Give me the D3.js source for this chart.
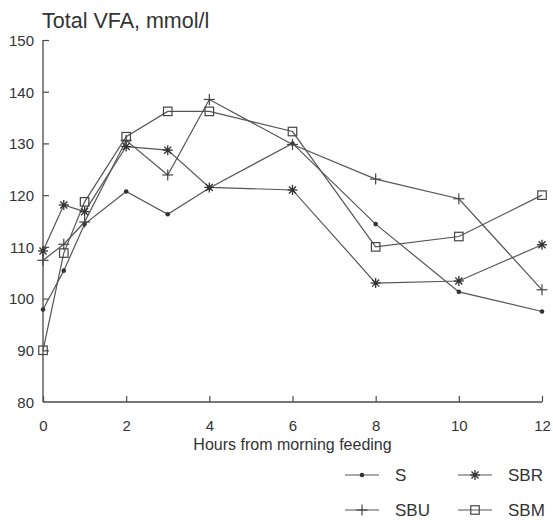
<!DOCTYPE html>
<html>
<head>
<meta charset="utf-8">
<script src="https://cdn.jsdelivr.net/npm/d3@7"></script>
<style>
  html, body { margin: 0; padding: 0; background: #fff; }
  svg { display: block; font-family: "Liberation Sans", Arial, Helvetica, sans-serif; }
</style>
</head>
<body>
<svg id="chart" width="553" height="520"></svg>
<script>
// ---- data ----
const hours = [0, 0.5, 1, 2, 3, 4, 6, 8, 10, 12];
const seriesNames = ["S", "SBR", "SBU", "SBM"];
const S   = [97.9, 105.4, 114.4, 120.7, 116.3, 121.4, 130.0, 114.4, 101.3, 97.5];
const SBR = [109.2, 118.1, 116.8, 129.4, 128.7, 121.5, 121.0, 103.0, 103.4, 110.4];
const SBU = [107.4, 110.5, 114.8, 130.6, 123.9, 138.5, 129.8, 123.1, 119.3, 101.7];
const SBM = [90.0, 108.8, 118.7, 131.3, 136.2, 136.2, 132.3, 110.0, 112.0, 120.0];
const xTicks = [0, 2, 4, 6, 8, 10, 12];
const yTicks = [80, 90, 100, 110, 120, 130, 140, 150];
const title = "Total VFA, mmol/l";
const xTitle = "Hours from morning feeding";

const seriesData = { S: S, SBR: SBR, SBU: SBU, SBM: SBM };

// ---- layout ----
const svg = d3.select("#chart");
const pLeft = 43, pRight = 542, pTop = 40, pBottom = 402;
const ink = "#4a4a4a", textInk = "#333";

const x = d3.scaleLinear().domain([0, 12]).range([pLeft, pRight]);
const y = d3.scaleLinear().domain([80, 150]).range([pBottom, pTop]);

// title
svg.append("text").attr("x", 42).attr("y", 28)
  .attr("font-size", 21.5).attr("fill", textInk).text(title);

// axes
const xAxis = d3.axisBottom(x).tickValues(xTicks).tickSize(-6).tickPadding(0).tickFormat(d3.format("d"));
const gx = svg.append("g").attr("transform", `translate(0,${pBottom})`).call(xAxis);
gx.select(".domain").attr("stroke", ink).attr("stroke-width", 1.3).attr("d", `M${pLeft},0H${pRight}`);
gx.selectAll(".tick line").attr("stroke", ink).attr("stroke-width", 1.2);
gx.selectAll(".tick text").attr("fill", textInk).attr("font-size", 15)
  .attr("dy", null).attr("y", 29).attr("font-family", "Liberation Sans, Arial, sans-serif");

const yAxis = d3.axisLeft(y).tickValues(yTicks).tickSize(-6).tickPadding(0).tickFormat(d3.format("d"));
const gy = svg.append("g").attr("transform", `translate(${pLeft},0)`).call(yAxis);
gy.select(".domain").attr("stroke", ink).attr("stroke-width", 1.3).attr("d", `M0,${pTop}V${pBottom}`);
gy.selectAll(".tick line").attr("stroke", ink).attr("stroke-width", 1.2);
gy.selectAll(".tick line").filter(d => d === 80).remove();
gy.selectAll(".tick text").attr("fill", textInk).attr("font-size", 15)
  .attr("x", -9).attr("dy", "0.36em").attr("font-family", "Liberation Sans, Arial, sans-serif");

// x title
svg.append("text").attr("x", (pLeft + pRight) / 2).attr("y", 450)
  .attr("text-anchor", "middle").attr("font-size", 16).attr("fill", textInk).text(xTitle);

// ---- markers ----
function drawMarker(g, name, cx, cy) {
  if (name === "S") {
    g.append("circle").attr("cx", cx).attr("cy", cy).attr("r", 2.3).attr("fill", "#333");
  } else if (name === "SBR") {
    const r = 5;
    for (let k = 0; k < 4; k++) {
      const a = k * Math.PI / 4;
      g.append("line")
        .attr("x1", cx - r * Math.cos(a)).attr("y1", cy - r * Math.sin(a))
        .attr("x2", cx + r * Math.cos(a)).attr("y2", cy + r * Math.sin(a))
        .attr("stroke", "#333").attr("stroke-width", 1.3);
    }
    g.append("circle").attr("cx", cx).attr("cy", cy).attr("r", 1.8).attr("fill", "#333");
  } else if (name === "SBU") {
    const r = 5.5;
    g.append("line").attr("x1", cx - r).attr("y1", cy).attr("x2", cx + r).attr("y2", cy)
      .attr("stroke", "#444").attr("stroke-width", 1.2);
    g.append("line").attr("x1", cx).attr("y1", cy - r).attr("x2", cx).attr("y2", cy + r)
      .attr("stroke", "#444").attr("stroke-width", 1.2);
  } else if (name === "SBM") {
    const s = 8.5;
    g.append("rect").attr("x", cx - s / 2).attr("y", cy - s / 2).attr("width", s).attr("height", s)
      .attr("fill", "none").attr("stroke", "#444").attr("stroke-width", 1.2);
  }
}

const line = d3.line().x(d => x(d[0])).y(d => y(d[1]));
const plot = svg.append("g");
seriesNames.forEach(name => {
  const pts = hours.map((h, i) => [h, seriesData[name][i]]);
  plot.append("path").datum(pts).attr("d", line)
    .attr("fill", "none").attr("stroke", "#555").attr("stroke-width", 1.2);
});
seriesNames.forEach(name => {
  const g = plot.append("g");
  hours.forEach((h, i) => drawMarker(g, name, x(h), y(seriesData[name][i])));
});

// ---- legend ----
const legendPos = { S: [345, 475], SBR: [458, 475], SBU: [345, 510], SBM: [458, 510] };
seriesNames.forEach(name => {
  const [lx, ly] = legendPos[name];
  const g = svg.append("g");
  g.append("line").attr("x1", lx).attr("y1", ly).attr("x2", lx + 34).attr("y2", ly)
    .attr("stroke", "#555").attr("stroke-width", 1.2);
  drawMarker(g, name, lx + 17, ly);
  g.append("text").attr("x", lx + 50).attr("y", ly).attr("dy", "0.36em")
    .attr("font-size", 17).attr("fill", textInk).text(name);
});
</script>
</body>
</html>
